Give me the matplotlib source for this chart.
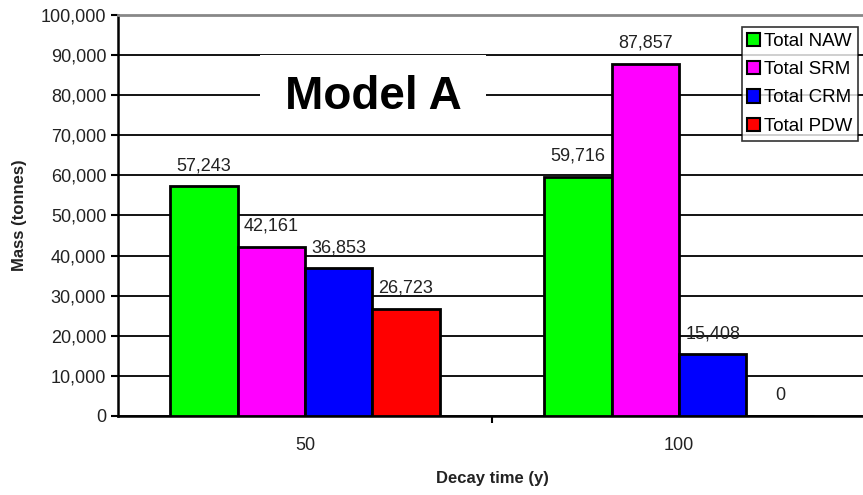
import numpy as np
import matplotlib.pyplot as plt
from matplotlib.patches import Rectangle

plt.rcParams['font.family'] = ['Liberation Sans', 'DejaVu Sans']

# Данные графика
categories = ['50', '100']
series_names = ['Total NAW', 'Total SRM', 'Total CRM', 'Total PDW']
colors = ['#00ff00', '#ff00ff', '#0000ff', '#ff0000']
naw = [57243, 59716]
srm = [42161, 87857]
crm = [36853, 15408]
pdw = [26723, 0]
values = [naw, srm, crm, pdw]

fig = plt.figure(figsize=(8.63, 4.95), dpi=100)
ax = fig.add_axes([118 / 863, 1 - 416 / 495, 748 / 863, 401 / 495])

x = np.arange(len(categories))
w = 0.18
for i, (name, vals, c) in enumerate(zip(series_names, values, colors)):
	pos = x + (i - 1.5) * w
	ax.bar(pos, vals, w, color=c, edgecolor='black', linewidth=2,
		   label=name, zorder=3)
	for p, v in zip(pos, vals):
		ax.text(p, v + 3000, f'{v:,}', ha='center', va='bottom',
				fontsize=13, color='#222222', zorder=4)

ax.set_xlim(-0.5, 1.5)
ax.set_ylim(0, 100000)
ax.set_yticks(np.arange(0, 100001, 10000))
ax.set_yticklabels([f'{v:,}' for v in range(0, 100001, 10000)])
ax.yaxis.grid(True, color='black', linewidth=1.3, zorder=0)

# Подписи категорий по центру, тики между ними
ax.set_xticks([0.5])
ax.set_xticklabels([''])
ax.set_xticks(x, minor=True)
ax.set_xticklabels(categories, minor=True)
ax.tick_params(axis='x', which='minor', length=0, pad=15, labelsize=13,
			   labelcolor='#222222')
ax.tick_params(axis='x', which='major', length=5, width=1.5, direction='out')
ax.tick_params(axis='y', length=5, width=1.5, direction='out', labelsize=13,
			   labelcolor='#222222')

for s in ['left', 'bottom']:
	ax.spines[s].set_linewidth(1.8)
ax.spines['top'].set_color('#888888')
ax.spines['top'].set_linewidth(2)
ax.spines['right'].set_visible(False)

ax.set_xlabel('Decay time (y)', fontsize=12, fontweight='bold', labelpad=12,
			  color='#222222')
ax.set_ylabel('Mass (tonnes)', fontsize=12, fontweight='bold', labelpad=10,
			  color='#222222')

leg = ax.legend(loc='upper right', bbox_to_anchor=((858 - 118) / 748, (416 - 27) / 401),
				fontsize=13.5, frameon=True, fancybox=False, handlelength=0.7,
				handleheight=0.7, handletextpad=0.2, borderpad=0.3,
				labelspacing=0.6, borderaxespad=0)
leg.get_frame().set_edgecolor('black')
leg.get_frame().set_linewidth(1.2)
for h in leg.legend_handles:
	h.set_linewidth(1.5)

# Белая плашка с заголовком поверх сетки
ax.add_patch(Rectangle(((260 - 118) / 748, (416 - 133) / 401), 226 / 748, 78 / 401,
					   transform=ax.transAxes, facecolor='white', edgecolor='none',
					   zorder=4))
ax.text((373 - 118) / 748, (416 - 97) / 401, 'Model A', ha='center', va='center',
		fontsize=33, fontweight='bold', zorder=5, transform=ax.transAxes)

fig.savefig('out.png', dpi=100)
